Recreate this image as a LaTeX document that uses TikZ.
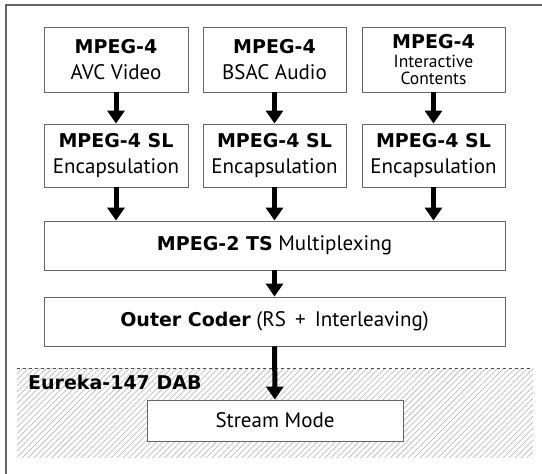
\documentclass[tikz,border=0pt]{standalone}
\usepackage{fontspec}
\setmainfont{PT Sans}
\newfontfamily\hdfont{DejaVu Sans}
\usetikzlibrary{arrows.meta,patterns.meta}
\tikzset{
  blk/.style={draw=gray!80!black, line width=0.9pt, fill=white, align=center,
    inner sep=0pt, font=\fontsize{21}{25.7}\selectfont},
  arr/.style={-{Triangle[width=17pt,length=13pt]}, line width=5pt}
}
\newcommand{\hd}[1]{{\hdfont\bfseries\fontsize{19}{25.7}\selectfont #1}}
\newcommand{\smalltxt}{\fontsize{17.5}{17}\selectfont}
\begin{document}
\begin{tikzpicture}[x=1pt,y=-1pt]
    \useasboundingbox (0,0) rectangle (542,474);
    % Rahmen
    \draw[gray!80!black, line width=1.2pt] (6,474) -- (6,5) -- (542,5);

    % DAB-Bereich
    \fill[pattern={Lines[angle=45,distance=4.2pt,line width=0.9pt]}, pattern color=gray!45]
        (17,368) rectangle (533,457);
    \draw[dashed, gray!60!black, line width=0.8pt] (17,368) -- (533,368);
    \node[anchor=base west, inner sep=0pt] (dab) at (28,389) {\hd{Eureka-147 DAB}};

    % Quellen
    \node[blk, minimum width=144pt, minimum height=65pt] (avc) at (116,59.5)
        {\hd{MPEG-4}\\AVC Video};
    \node[blk, minimum width=143pt, minimum height=65pt] (bsac) at (274.5,59.5)
        {\hd{MPEG-4}\\BSAC Audio};
    \node[blk, minimum width=143pt, minimum height=65pt] (ic) at (433.5,59.5)
        {\hd{MPEG-4}\\[-6.5pt]{\smalltxt Interactive}\\[-8.5pt]{\smalltxt Contents}};

    % SL-Kapselung
    \node[blk, minimum width=144pt, minimum height=63pt] (sl1) at (116,155.5)
        {\hd{MPEG-4 SL}\\Encapsulation};
    \node[blk, minimum width=143pt, minimum height=63pt] (sl2) at (274.5,155.5)
        {\hd{MPEG-4 SL}\\Encapsulation};
    \node[blk, minimum width=143pt, minimum height=63pt] (sl3) at (433.5,155.5)
        {\hd{MPEG-4 SL}\\Encapsulation};

    % Multiplex und Kanalcodierung
    \node[blk, minimum width=461pt, minimum height=49pt] (ts) at (274.5,245.5)
        {\hd{MPEG-2 TS} Multiplexing};
    \node[blk, minimum width=461pt, minimum height=49pt] (oc) at (274.5,321.5)
        {\hd{Outer Coder} (RS \,+\, Interleaving)};
    \node[blk, minimum width=256pt, minimum height=41pt] (sm) at (275,420.5)
        {Stream Mode};

    % Pfeile
    \draw[arr] (avc) -- (sl1);
    \draw[arr] (bsac) -- (sl2);
    \draw[arr] (ic) -- (sl3);
    \draw[arr] (sl1.south) -- (sl1.south |- ts.north);
    \draw[arr] (sl2.south) -- (sl2.south |- ts.north);
    \draw[arr] (sl3.south) -- (sl3.south |- ts.north);
    \draw[arr] (ts) -- (oc);
    \draw[arr] (oc) -- (sm);
\end{tikzpicture}
\end{document}
